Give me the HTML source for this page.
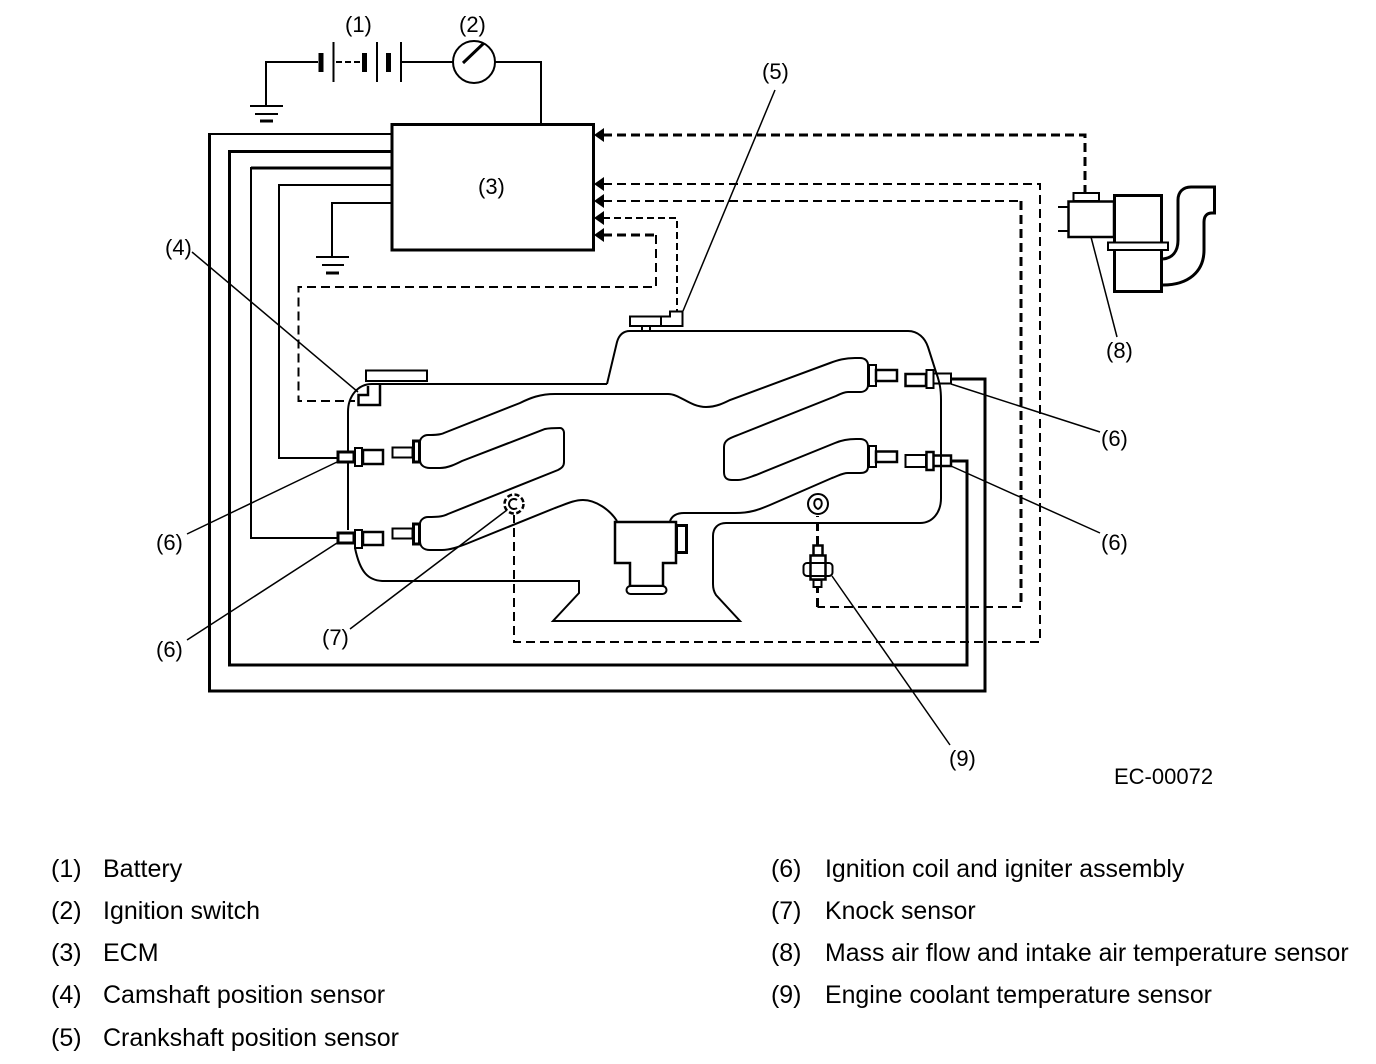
<!DOCTYPE html>
<html><head><meta charset="utf-8"><style>
html,body{margin:0;padding:0;background:#fff}
svg{display:block}
text{font-family:"Liberation Sans",sans-serif;fill:#000}
.d{font-size:22px}
.l{font-size:25px}
.r{font-size:24.860px}
</style></head><body>
<svg width="1376" height="1064" viewBox="0 0 1376 1064" xmlns="http://www.w3.org/2000/svg">
<rect width="1376" height="1064" fill="#fff"/>
<g fill="none" stroke="#000" stroke-width="2">
<!-- power -->
<path d="M250 106H283M255 114H278" />
<path d="M260 121H273" stroke-width="3"/>
<path d="M266 106V62H318M401 62H453M495 62H541V123"/>
<path d="M333.500 42V82M377 42V82M401 42V82"/>
<path d="M336 62H360" stroke-dasharray="6 3"/>
<path d="M321 53V72M364.500 53V72M388.500 53V72" stroke-width="5"/>
<circle cx="474" cy="62" r="21"/>
<path d="M463 63L484 43" stroke-width="3"/>
<!-- ECM -->
<rect x="392" y="124.500" width="201.500" height="125.500" stroke-width="3"/>
<!-- harness -->
<path d="M391 134H209.500"/>
<path d="M209.500 133V691H985V379H950" stroke-width="3"/>
<path d="M391 151.500H229.500V665H967V461H950" stroke-width="3"/>
<path d="M391 168H251" stroke-width="3"/>
<path d="M251 167V538H338"/>
<path d="M391 185H279V458H338"/>
<path d="M391 203H332V257"/>
<path d="M316 257H349M322 265H344"/>
<path d="M326 273H339" stroke-width="3"/>
<!-- dashed signal -->
<g>
<path d="M603 135H1085V192" stroke-width="3" stroke-dasharray="9 5"/>
<path d="M603 184H1040V642H514V515" stroke-dasharray="9 5"/>
<path d="M603 201H1021" stroke-width="2" stroke-dasharray="9 5"/>
<path d="M1021 201V607" stroke-width="3" stroke-dasharray="9 5"/>
<path d="M1021 607H817.500" stroke-width="2" stroke-dasharray="9 5"/>
<path d="M817.500 607V587M817.500 545V516" stroke-width="3" stroke-dasharray="9 5"/>
<path d="M603 218H677V311" stroke-dasharray="7 4"/>
<path d="M603 235H656" stroke-width="3" stroke-dasharray="9 5"/>
<path d="M656 235V287H298.500V401H355" stroke-width="2" stroke-dasharray="9 5"/>
</g>
<g fill="#000" stroke="none">
<path d="M594 135L604 128V142Z"/>
<path d="M594 184L604 177V191Z"/>
<path d="M594 201L604 194V208Z"/>
<path d="M594 218L604 211V225Z"/>
<path d="M594 235L604 228V242Z"/>
</g>
<!-- engine outer -->
<path d="M607 384L372 384C358 384 348 396 348 412V530"/>
<path d="M607 384L617 342C619 335 623 331 630 331H908C918 331 925 338 928 347L936 372C940 383 941 390 941 400V498C941 512 933 523 920 523H726C718 523 713 528 713 536V584C713 589 714 592 716 595L740 621H553L579 593V581H384C368 581 360 572 355 548"/>
<!-- intake left -->
<path d="M630 394H555C540 394 530 398 520 403L444 433C440 435 434 435 428 435C424 435 420 438 420 442V460C420 465 424 468 430 468H440C448 468 456 464 462 461L545 429C550 428 556 428 560 428C562 428 564 430 564 433V462C564 466 562 468 558 470L448 514C442 517 436 517 428 517C424 517 420 520 420 524V541C420 547 424 550 430 550H442C450 550 458 547 466 544L555 508C566 504 574 500 583 500C596 500 610 510 617 521"/>
<!-- intake right -->
<path d="M630 394H668C680 394 690 407 706 407C716 407 724 403 730 400L830 363C838 360 845 358 855 358H860C865 358 868 361 868 365V385C868 390 864 392 860 392H848C844 392 840 394 836 396L738 435C730 438 724 440 724 447V472C724 478 727 480 732 480H738C744 480 750 477 756 475L835 443C842 440 848 439 856 439H860C865 439 868 442 868 447V467C868 472 864 473 860 473H848C842 473 838 476 832 478L770 505C758 510 750 513 735 513H684C676 513 672 516 670 521"/>
<!-- throttle body -->
<path d="M615 522H676V563H663V586H630V563H615Z" stroke-width="2.500"/>
<rect x="676.500" y="525.500" width="10" height="27" stroke-width="3"/>
<rect x="626.500" y="586" width="40" height="8" rx="4" fill="#fff"/>
<!-- left coils -->
<g fill="#fff">
<rect x="338" y="452" width="16" height="10" stroke-width="3"/>
<rect x="355" y="448" width="7" height="18"/>
<rect x="363" y="450" width="20" height="14" stroke-width="2.500"/>
<rect x="338" y="533" width="16" height="10" stroke-width="3"/>
<rect x="355" y="530" width="7" height="18"/>
<rect x="363" y="532" width="20" height="13" stroke-width="2.500"/>
<rect x="392.500" y="447.500" width="20" height="10"/>
<rect x="413.500" y="441" width="6" height="21" stroke-width="3"/>
<rect x="392.500" y="528.500" width="20" height="10"/>
<rect x="413.500" y="524" width="6" height="20" stroke-width="3"/>
<!-- right coils -->
<rect x="869" y="365" width="7" height="21"/>
<rect x="876" y="370" width="21" height="11" stroke-width="2.500"/>
<rect x="869" y="446" width="7" height="21"/>
<rect x="876" y="451.500" width="21" height="10.500" stroke-width="2.500"/>
<rect x="905.500" y="374" width="20.500" height="12" stroke-width="2.500"/>
<rect x="905.500" y="455" width="20.500" height="12"/>
</g>
<rect x="933" y="373.500" width="18" height="10"/>
<rect x="933" y="455.500" width="18" height="10.500" stroke-width="2.500"/>
<rect x="926.500" y="370" width="7" height="18" fill="#fff"/>
<rect x="926.500" y="452" width="7" height="18" fill="#fff" stroke-width="2.500"/>
<!-- crank sensor -->
<path d="M630 316.500H670V311.500H682.500V326H630ZM661 316.500V326M642 326V331M650 326V331"/>
<!-- cam sensor -->
<rect x="366" y="370.500" width="61" height="10.500" stroke-width="2"/>
<path d="M380 384V405H358.500V395H368V386" stroke-width="2.500"/>
<!-- knock sensor -->
<circle cx="514" cy="504" r="9.500" stroke-width="2.500" stroke-dasharray="5 2.500"/>
<path d="M517 500A5 5 0 1 0 517 508"/>
<!-- coolant sensor -->
<circle cx="818" cy="504" r="10" stroke-width="2"/>
<path d="M818 509C813 507 813 499 818 499C823 499 823 507 818 509Z"/>
<rect x="813.500" y="545.500" width="9" height="10" stroke-width="2.500"/>
<rect x="810.500" y="555.500" width="15" height="24" stroke-width="2.500" fill="#fff"/>
<rect x="803.500" y="563" width="29" height="13" rx="3.500" stroke-width="2"/>
<path d="M810 563H826M810 576H826" stroke="#000"/>
<rect x="813.500" y="580" width="8" height="7" stroke-width="2"/>
<!-- MAF -->
<rect x="1114.500" y="195.500" width="47" height="96" stroke-width="3"/>
<rect x="1068.500" y="201.500" width="45.500" height="35.500" fill="#fff" stroke-width="2.500"/>
<rect x="1073.500" y="193" width="25.500" height="8"/>
<path d="M1058 207H1068M1058 231H1068"/>
<rect x="1108" y="242.500" width="60" height="7.500" fill="#fff"/>
<path d="M1163 259C1172 258 1178 252 1178 240V200C1178 192 1183 187 1191 187H1214.500V213H1212C1207 213 1204 216 1204 222V250C1204 272 1188 285 1163 285" stroke-width="3"/>
</g>
<!-- leaders -->
<g fill="none" stroke="#000" stroke-width="1.500">
<path d="M192 252L358 392"/>
<path d="M775 90L683 311"/>
<path d="M951 384L1100 432"/>
<path d="M951 466L1100 533"/>
<path d="M337 462L187 534"/>
<path d="M337 543L187 640"/>
<path d="M507 510L350 629"/>
<path d="M1091 237L1117 337"/>
<path d="M832 576L950 745"/>
</g>
<!-- diagram labels -->
<text class="d" x="345" y="32">(1)</text>
<text class="d" x="459" y="32">(2)</text>
<text class="d" x="478" y="194">(3)</text>
<text class="d" x="165" y="255">(4)</text>
<text class="d" x="762" y="79">(5)</text>
<text class="d" x="1101" y="446">(6)</text>
<text class="d" x="1101" y="550">(6)</text>
<text class="d" x="156" y="550">(6)</text>
<text class="d" x="156" y="657">(6)</text>
<text class="d" x="322" y="645">(7)</text>
<text class="d" x="1106" y="358">(8)</text>
<text class="d" x="949" y="766">(9)</text>
<text class="d" x="1114" y="784">EC-00072</text>
<!-- legend -->
<text class="l" x="51" y="877">(1)</text><text class="l" x="103" y="877">Battery</text>
<text class="l" x="51" y="919">(2)</text><text class="l" x="103" y="919">Ignition switch</text>
<text class="l" x="51" y="961">(3)</text><text class="l" x="103" y="961">ECM</text>
<text class="l" x="51" y="1003">(4)</text><text class="l" x="103" y="1003">Camshaft position sensor</text>
<text class="l" x="51" y="1046">(5)</text><text class="l" x="103" y="1046">Crankshaft position sensor</text>
<text class="r" x="771" y="877">(6)</text><text class="r" x="825" y="877">Ignition coil and igniter assembly</text>
<text class="r" x="771" y="919">(7)</text><text class="r" x="825" y="919">Knock sensor</text>
<text class="r" x="771" y="961">(8)</text><text class="r" x="825" y="961">Mass air flow and intake air temperature sensor</text>
<text class="r" x="771" y="1003">(9)</text><text class="r" x="825" y="1003">Engine coolant temperature sensor</text>
</svg>
</body></html>
